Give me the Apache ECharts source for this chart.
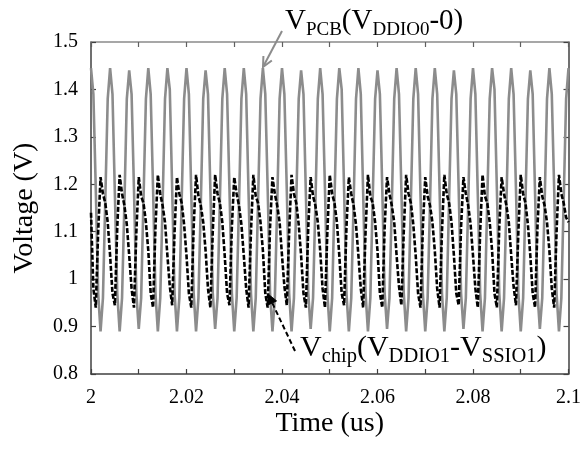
<!DOCTYPE html>
<html>
<head>
<meta charset="utf-8">
<script src="https://cdn.jsdelivr.net/npm/echarts@6/dist/echarts.min.js"></script>
<style>
html,body{margin:0;padding:0;background:#fff;}
#chart{width:584px;height:449px;}
</style>
</head>
<body>
<div id="chart"></div>
<script>
// Sampling grid: 2.000 us .. 2.100 us, 0.0005 us step (8 samples per 0.004 us cycle)
const T_START = 2.0;
const T_STEP = 0.0005;

// V_PCB (gray, solid) values, one row per cycle
const vPCB = [
  1.445,1.39,1.19,0.97,0.89,0.96,1.17,1.38,
  1.445,1.39,1.18,0.97,0.89,0.96,1.16,1.38,
  1.44,1.39,1.19,0.97,0.895,0.96,1.17,1.38,
  1.445,1.39,1.19,0.97,0.89,0.96,1.16,1.38,
  1.445,1.40,1.19,0.97,0.89,0.96,1.17,1.38,
  1.445,1.39,1.18,0.97,0.89,0.96,1.16,1.38,
  1.44,1.39,1.19,0.97,0.895,0.96,1.17,1.38,
  1.445,1.39,1.19,0.97,0.89,0.96,1.16,1.38,
  1.445,1.39,1.18,0.97,0.89,0.96,1.17,1.38,
  1.445,1.39,1.19,0.97,0.89,0.96,1.16,1.38,
  1.445,1.39,1.19,0.97,0.89,0.96,1.17,1.38,
  1.44,1.39,1.18,0.97,0.895,0.96,1.16,1.38,
  1.445,1.39,1.19,0.97,0.89,0.96,1.17,1.38,
  1.445,1.40,1.19,0.97,0.89,0.96,1.16,1.38,
  1.445,1.39,1.18,0.97,0.89,0.96,1.17,1.38,
  1.44,1.39,1.19,0.97,0.895,0.96,1.16,1.38,
  1.445,1.39,1.19,0.97,0.89,0.96,1.17,1.38,
  1.445,1.39,1.18,0.97,0.89,0.96,1.16,1.38,
  1.445,1.39,1.19,0.97,0.89,0.96,1.17,1.38,
  1.44,1.39,1.19,0.97,0.895,0.96,1.16,1.38,
  1.445,1.39,1.18,0.97,0.89,0.96,1.17,1.38,
  1.445,1.40,1.19,0.97,0.89,0.96,1.16,1.38,
  1.445,1.39,1.19,0.97,0.89,0.96,1.17,1.38,
  1.44,1.39,1.18,0.97,0.895,0.96,1.16,1.38,
  1.445,1.39,1.19,0.97,0.89,0.96,1.17,1.38,
  1.445
];

// V_chip (black, dashed) values, one row per cycle
const vChip = [
  1.14,0.98,0.94,1.10,1.215,1.18,1.16,1.12,
  1.05,0.97,0.945,1.11,1.22,1.18,1.155,1.115,
  1.05,0.98,0.94,1.10,1.215,1.175,1.16,1.12,
  1.06,0.97,0.94,1.11,1.22,1.18,1.155,1.12,
  1.05,0.985,0.945,1.10,1.215,1.18,1.16,1.115,
  1.05,0.97,0.94,1.11,1.22,1.175,1.155,1.12,
  1.06,0.98,0.94,1.10,1.22,1.18,1.16,1.12,
  1.05,0.97,0.945,1.11,1.215,1.18,1.155,1.115,
  1.05,0.98,0.94,1.10,1.22,1.175,1.16,1.12,
  1.06,0.97,0.94,1.11,1.215,1.18,1.155,1.12,
  1.05,0.985,0.945,1.10,1.22,1.18,1.16,1.115,
  1.05,0.97,0.94,1.11,1.215,1.175,1.155,1.12,
  1.06,0.98,0.94,1.10,1.22,1.18,1.16,1.12,
  1.05,0.97,0.945,1.11,1.215,1.18,1.155,1.115,
  1.05,0.98,0.94,1.10,1.22,1.175,1.16,1.12,
  1.06,0.97,0.94,1.11,1.215,1.18,1.155,1.12,
  1.05,0.985,0.945,1.10,1.22,1.18,1.16,1.115,
  1.05,0.97,0.94,1.11,1.215,1.175,1.155,1.12,
  1.06,0.98,0.94,1.10,1.22,1.18,1.16,1.12,
  1.05,0.97,0.945,1.11,1.215,1.18,1.155,1.115,
  1.05,0.98,0.94,1.10,1.22,1.175,1.16,1.12,
  1.06,0.97,0.94,1.11,1.215,1.18,1.155,1.12,
  1.05,0.985,0.945,1.10,1.22,1.18,1.16,1.115,
  1.05,0.97,0.94,1.11,1.215,1.175,1.155,1.12,
  1.06,0.98,0.94,1.10,1.22,1.18,1.16,1.13,
  1.12
];

const xTickLabels = ['2','2.02','2.04','2.06','2.08','2.1'];
const yTickLabels = ['0.8','0.9','1','1.1','1.2','1.3','1.4','1.5'];

const FONT = '"Liberation Serif","Times New Roman",serif';
const time = vPCB.map((_, i) => +(T_START + i * T_STEP).toFixed(4));

const chart = echarts.init(document.getElementById('chart'), null, {renderer: 'canvas'});

function arrow(x1, y1, x2, y2, color, dashed, filled) {
  const ang = Math.atan2(y2 - y1, x2 - x1);
  const L = 11, A = Math.PI / 7;
  const p1 = [x2 - L * Math.cos(ang - A), y2 - L * Math.sin(ang - A)];
  const p2 = [x2 - L * Math.cos(ang + A), y2 - L * Math.sin(ang + A)];
  return [
    {type: 'line', shape: {x1, y1, x2, y2}, style: {stroke: color, lineWidth: 2, lineDash: dashed ? [5, 3] : null}, z: 100},
    filled
      ? {type: 'polygon', shape: {points: [p1, [x2, y2], p2]}, style: {fill: color, stroke: color, lineWidth: 1}, z: 100}
      : {type: 'polyline', shape: {points: [p1, [x2, y2], p2]}, style: {stroke: color, lineWidth: 2, fill: null}, z: 100}
  ];
}

const mainA = {fontSize: 29, fontFamily: FONT, color: '#000', verticalAlign: 'bottom', padding: [0, 0, 4, 0]};
const subA = {fontSize: 19, fontFamily: FONT, color: '#000', verticalAlign: 'bottom'};
const mainB = {fontSize: 30, fontFamily: FONT, color: '#000', verticalAlign: 'bottom', padding: [0, 0, 4, 0]};
const subB = {fontSize: 20.5, fontFamily: FONT, color: '#000', verticalAlign: 'bottom'};

const option = {
  animation: false,
  backgroundColor: '#fff',
  grid: {left: 91, right: 15, top: 42, bottom: 75, containLabel: false},
  xAxis: [
    {
      type: 'value', position: 'bottom', min: 2, max: 2.1, interval: 0.01,
      axisLine: {show: true, lineStyle: {color: '#404040', width: 1.5}},
      axisTick: {show: true, inside: true, length: 5, lineStyle: {color: '#404040', width: 1.2}},
      axisLabel: {
        fontFamily: FONT, fontSize: 20, color: '#000', margin: 14,
        showMinLabel: true, showMaxLabel: true,
        formatter: v => { const k = Math.round((v - 2) * 100); return k % 2 === 0 ? xTickLabels[k / 2] : ''; }
      },
      splitLine: {show: false},
      name: 'Time (us)', nameLocation: 'middle', nameGap: 36, nameMoveOverlap: false,
      nameTextStyle: {fontFamily: FONT, fontSize: 28, color: '#000', verticalAlign: 'top'}
    },
    {
      type: 'value', position: 'top', min: 2, max: 2.1, interval: 0.01,
      axisLine: {show: true, lineStyle: {color: '#8a8a8a', width: 1.5}},
      axisTick: {show: true, inside: true, length: 5, lineStyle: {color: '#606060', width: 1.2}},
      axisLabel: {show: false}, splitLine: {show: false}
    }
  ],
  yAxis: [
    {
      type: 'value', position: 'left', min: 0.8, max: 1.5, interval: 0.1,
      axisLine: {show: true, lineStyle: {color: '#404040', width: 1.5}},
      axisTick: {show: true, inside: true, length: 5, lineStyle: {color: '#404040', width: 1.2}},
      axisLabel: {
        fontFamily: FONT, fontSize: 20, color: '#000', margin: 13,
        showMinLabel: true, showMaxLabel: true,
        formatter: v => yTickLabels[Math.round((v - 0.8) * 10)]
      },
      splitLine: {show: false},
      name: 'Voltage (V)', nameLocation: 'middle', nameGap: 52, nameRotate: 90,
      nameTextStyle: {fontFamily: FONT, fontSize: 28, color: '#000'}
    },
    {
      type: 'value', position: 'right', min: 0.8, max: 1.5, interval: 0.1,
      axisLine: {show: true, lineStyle: {color: '#404040', width: 1.5}},
      axisTick: {show: true, inside: true, length: 5, lineStyle: {color: '#404040', width: 1.2}},
      axisLabel: {show: false}, splitLine: {show: false}
    }
  ],
  series: [
    {
      name: 'V_PCB', type: 'line', xAxisIndex: 0, yAxisIndex: 0,
      data: time.map((t, i) => [t, vPCB[i]]),
      showSymbol: false, smooth: false, clip: true,
      lineStyle: {color: '#8c8c8c', width: 2.6}
    },
    {
      name: 'V_chip', type: 'line', xAxisIndex: 0, yAxisIndex: 0,
      data: time.map((t, i) => [t, vChip[i]]),
      showSymbol: false, smooth: false, clip: true,
      lineStyle: {color: '#000', width: 2.6, type: [5, 2]}
    }
  ],
  graphic: [
    {
      type: 'text', left: 285, top: 7, z: 100,
      style: {
        text: '{m|V}{s|PCB}{m|(V}{s|DDIO0}{m|-0)}',
        rich: {m: mainA, s: subA}
      }
    },
    {
      type: 'text', left: 300, top: 333, z: 100,
      style: {
        text: '{m|V}{s|chip}{m|(V}{s|DDIO1}{m|-V}{s|SSIO1}{m|)}',
        rich: {m: mainB, s: subB}
      }
    },
    ...arrow(282, 31, 263, 67, '#8c8c8c', false, false),
    ...arrow(295, 351, 268, 294, '#000', true, true)
  ]
};
chart.setOption(option);
</script>
</body>
</html>
